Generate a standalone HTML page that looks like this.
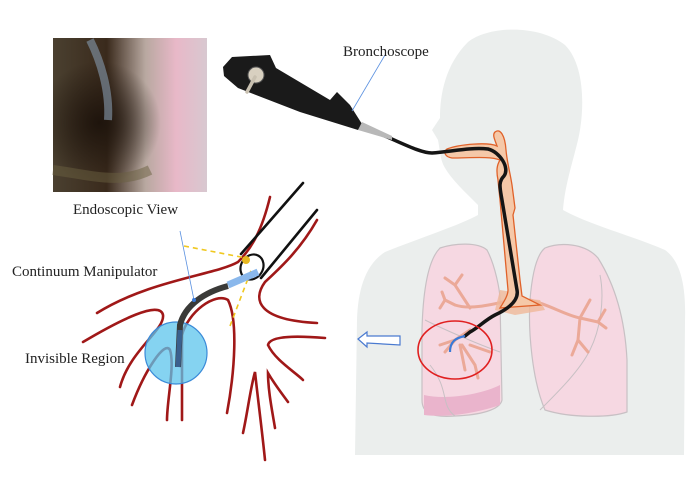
<!DOCTYPE html>
<html><head><style>
body{margin:0;background:#fff;width:700px;height:484px;overflow:hidden}
svg text{font-family:"Liberation Serif",serif;fill:#222}
</style></head><body>
<svg width="700" height="484" viewBox="0 0 700 484" xmlns="http://www.w3.org/2000/svg">
<defs>
<linearGradient id="ev" x1="0" y1="0" x2="1" y2="0">
<stop offset="0" stop-color="#4a4030"/><stop offset="0.35" stop-color="#3a2a1c"/><stop offset="0.6" stop-color="#b8a8a0"/><stop offset="0.8" stop-color="#e8b8c8"/><stop offset="1" stop-color="#d8c8d0"/></linearGradient>
<radialGradient id="dk" cx="0.3" cy="0.55" r="0.4"><stop offset="0" stop-color="#1e140c"/><stop offset="1" stop-color="#1e140c" stop-opacity="0"/></radialGradient>
</defs>
<!-- body silhouette -->
<path d="M478,205 C465,192 452,180 445,168 C440,160 440,150 438,140 L432,130 L440,118 C440,95 445,65 468,42 C490,25 540,25 565,45 C585,65 585,110 578,140 C572,165 565,185 563,210 C590,225 630,235 665,250 C682,262 686,290 685,320 L684,455 L355,455 L357,320 C358,290 365,265 385,252 C420,238 460,225 478,215 Z" fill="#ebeeed"/>
<!-- lungs -->
<path d="M440,248 C455,243 478,242 487,250 C495,265 500,290 500,300 L502,400 C500,410 480,415 455,416 C430,418 422,412 422,400 L422,330 C423,290 428,260 440,248Z" fill="#f6d8e2" stroke="#c8c0c4" stroke-width="1.2"/>
<path d="M424,395 C445,400 480,395 500,385 L500,405 C480,412 450,418 424,415Z" fill="#eab4cc"/>
<path d="M545,248 C560,242 585,243 598,258 C615,285 625,320 627,360 L627,412 C610,418 570,418 545,410 C532,380 528,330 530,300 C532,275 536,255 545,248Z" fill="#f6d8e2" stroke="#c8c0c4" stroke-width="1.2"/>
<path d="M600,275 C605,300 600,330 590,350 C580,370 560,390 540,410 M425,320 C445,330 480,345 500,352 M430,365 C450,390 440,405 455,416" fill="none" stroke="#c8c0c4" stroke-width="1"/>
<!-- bronchi tree -->
<g stroke="#eaa490" stroke-width="3" fill="none" stroke-linecap="round" opacity="0.9">
<path d="M512,300 C490,305 470,310 455,305 M470,308 L455,285 L445,278 M455,285 L462,275 M455,305 L445,300 L442,292 M445,300 L440,308"/>
<path d="M530,300 C550,305 565,315 580,318 L590,300 M580,318 L598,322 L605,310 M598,322 L606,328 M580,318 L578,340 L572,355 M578,340 L588,352"/>
<path d="M470,330 L455,340 L445,352 M455,340 L440,345 M460,345 L465,370 M462,345 L475,365 L478,378 M470,345 L490,352"/>
</g>
<path d="M500,290 L512,292 L518,298 L540,300 L545,310 L515,315 L495,310Z" fill="#f0b898" opacity="0.8"/>
<!-- trachea -->
<path d="M447,149 C460,144 488,142 497,146 C495,140 492,135 495,132 C500,128 505,135 506,150 C507,162 510,172 512,185 L515,208 L513,215 L520,280 L522,296 L540,305 L500,308 C505,300 508,295 508,290 L500,200 L498,180 C496,170 497,165 500,160 C490,156 470,158 452,158 C445,157 443,152 447,149Z" fill="#f5c8a8" stroke="#e0622a" stroke-width="1.3"/>
<!-- cable -->
<path d="M380,134 C400,142 420,153 432,153 C450,152 470,147 488,149 C500,152 510,168 504,176 C498,182 500,188 502,200 L517,290 C519,300 510,308 495,315 C485,320 478,328 470,332 L465,336" fill="none" stroke="#151515" stroke-width="3.5" stroke-linecap="round"/>
<path d="M465,336 C455,338 450,342 450,352" fill="none" stroke="#3a7ad8" stroke-width="2.2"/>
<ellipse cx="455" cy="350" rx="37" ry="29" fill="none" stroke="#e02020" stroke-width="1.6"/>
<!-- arrow -->
<path d="M358,339 L367,332 L367,336 L400,336 L400,345 L367,343 L367,347Z" fill="#fff" stroke="#4a7ad0" stroke-width="1.2"/>
<!-- endoscopic view -->
<rect x="53" y="38" width="154" height="154" fill="url(#ev)"/>
<rect x="53" y="38" width="154" height="154" fill="url(#dk)"/>
<path d="M90,40 C100,60 110,90 108,120" stroke="#7a8a9a" stroke-width="8" fill="none" opacity="0.7"/>
<path d="M53,170 C90,175 120,185 150,170" stroke="#6a6040" stroke-width="10" fill="none" opacity="0.5"/>
<!-- bronchoscope -->
<path d="M223,67 L232,57 L270,55 L276,68 L330,100 L337,92 L350,105 L362,124 L358,130 L300,112 L238,88 L224,76Z" fill="#1a1a1a"/>
<path d="M362,122 L392,136 L392,140 L358,130Z" fill="#b8b8b8"/>
<circle cx="256" cy="75" r="8" fill="#d8d0c0" stroke="#555"/>
<path d="M255,77 L247,92" stroke="#c8c0b0" stroke-width="3.5" stroke-linecap="round"/>
<path d="M385,55 L352,111" stroke="#5a90e0" stroke-width="0.8"/>
<text x="343" y="56" font-size="15">Bronchoscope</text>
<text x="73" y="214" font-size="15">Endoscopic View</text>
<!-- inset diagram -->
<g fill="none" stroke="#a01818" stroke-width="2.6" stroke-linecap="round">
<path d="M270,197 C262,230 252,248 238,262 C215,275 150,280 97,313"/>
<path d="M317,220 C300,250 280,268 265,282 C252,300 258,320 317,323"/>
<path d="M325,338 C300,336 270,335 268,345 C275,360 295,372 303,380"/>
<path d="M83,342 C120,320 160,300 163,315 C165,330 130,350 120,387"/>
<path d="M182,420 L182,335 C188,312 215,292 228,300 C238,320 235,370 227,413"/>
<path d="M132,405 C145,370 165,340 170,350 C175,365 167,400 167,420"/>
<path d="M243,433 C248,410 250,390 255,372 C258,400 262,430 265,460"/>
<path d="M275,428 C272,410 268,390 268,373 C275,385 283,395 288,402"/>
</g>
<g fill="none" stroke="#111" stroke-width="2.6" stroke-linecap="round">
<path d="M303,183 L241,254"/>
<path d="M317,210 L261,278"/>
<ellipse cx="252" cy="267" rx="11" ry="13" transform="rotate(30 252 267)" stroke-width="2.2"/>
</g>
<g stroke="#f0c820" stroke-width="1.6" stroke-dasharray="5,4" fill="none">
<path d="M184,246 L246,258"/><path d="M230,326 L252,268"/>
</g>
<circle cx="246" cy="260" r="4" fill="#e8b820"/>
<circle cx="176" cy="353" r="31" fill="#5cc4ec" fill-opacity="0.75" stroke="#3a8ad8" stroke-width="1.2"/>
<path d="M258,272 L228,285" stroke="#8ab8ec" stroke-width="7"/>
<path d="M228,286 C205,292 185,305 180,325 L178,367" fill="none" stroke="#3a3a38" stroke-width="6"/>
<path d="M180,330 L178,367" stroke="#3a7ac8" stroke-width="5" opacity="0.6"/>
<path d="M180,231 L194,300" stroke="#5a90e0" stroke-width="0.8"/>
<circle cx="194" cy="300" r="2" fill="#3a7ad8"/>
<text x="12" y="276" font-size="15">Continuum Manipulator</text>
<text x="25" y="363" font-size="15">Invisible Region</text>
</svg>
</body></html>
